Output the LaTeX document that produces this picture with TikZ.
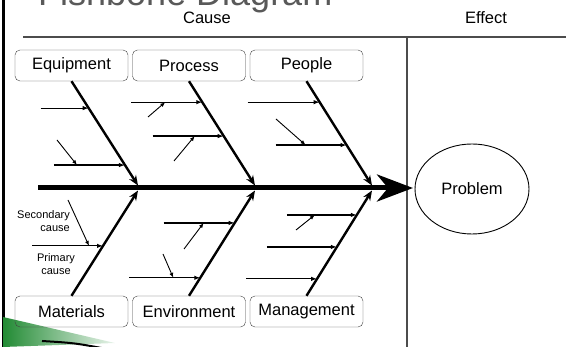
\documentclass[tikz,border=0pt]{standalone}
\usepackage{fontspec}
\setmainfont{Liberation Sans}
\usetikzlibrary{arrows.meta,calc,shapes.geometric}

\definecolor{swoosh}{RGB}{34,139,52}

\begin{document}
\begin{tikzpicture}[x=1pt,y=-1pt,
  cat/.style={draw=black!75,rounded corners=5pt,minimum width=113pt,minimum height=31pt,inner sep=0pt,font=\fontsize{16.5}{18}\selectfont},
  head/.style={font=\fontsize{16.5}{18}\selectfont,inner sep=0pt},
  bone/.style={line width=2.4pt,-{Stealth[length=10pt,width=8pt]}},
  sub/.style={line width=1.2pt,-{Latex[length=6pt,width=4.5pt]}},
  subsub/.style={line width=0.9pt,-{Latex[length=5pt,width=4pt]}},
  note/.style={font=\fontsize{11}{13.5}\selectfont,inner sep=0pt}]
\useasboundingbox (0,0) rectangle (566,347);
\clip (0,0) rectangle (566,347);

% heading
\node [anchor=base west, text=black!65, inner sep=0pt, font=\fontsize{36}{40}\selectfont] (title) at (38,6) {Fishbone Diagram};
\node [head, anchor=base] (cause) at (207,24) {Cause};
\node [head, anchor=base] (effect) at (486,24) {Effect};
\draw [line width=1.3pt, black!70] (23,37) -- (566,37);
\draw [line width=1.3pt, black!70] (407,37) -- (407,347);
\draw [line width=3pt] (3,0) -- (3,347);

% slide corner
\shade [left color=swoosh, right color=swoosh!10] (3,317) -- (115,343) -- (3,347) -- cycle;
\draw [line width=2pt] (42,341) .. controls (75,343) .. (112,350);

% categories
\node [cat] (eq) at (71.5,65.5) {Equipment};
\node [cat] (pr) at (189,65.5) {Process};
\node [cat] (pe) at (306.5,65.5) {People};
\node [cat] (ma) at (71.5,311.5) {Materials};
\node [cat] (en) at (189,311.5) {Environment};
\node [cat] (mg) at (306.5,311.5) {Management};

% spine
\coordinate (tail) at (38,188);
\coordinate (tip) at (413,188);
\draw [line width=5pt, -{Stealth[length=36pt,width=27pt,inset=11pt]}] (tail) -- (tip);
\node [draw, ellipse, line width=0.9pt, minimum width=114pt, minimum height=90pt, font=\fontsize{16.5}{18}\selectfont] (prob) at (472,189) {Problem};

% bones
\coordinate (ju1) at (138,185.5);
\coordinate (ju2) at (255,185.5);
\coordinate (ju3) at (372,185.5);
\coordinate (jd1) at (138,190.5);
\coordinate (jd2) at (255,190.5);
\coordinate (jd3) at (372,190.5);
\draw [bone] (eq.south) -- (ju1);
\draw [bone] (pr.south) -- (ju2);
\draw [bone] (pe.south) -- (ju3);
\draw [bone] (ma.north) -- (jd1);
\draw [bone] (en.north) -- (jd2);
\draw [bone] (mg.north) -- (jd3);

% primary causes
\foreach \a/\b/\t/\l/\n in {eq.south/ju1/0.258/48/e1, eq.south/ju1/0.804/71/e2,
    pr.south/ju2/0.201/71/p1, pr.south/ju2/0.526/71/p2,
    pe.south/ju3/0.201/72/q1, pe.south/ju3/0.612/71/q2,
    ma.north/jd1/0.474/71/m1,
    en.north/jd2/0.692/71/v1, en.north/jd2/0.171/71/v2,
    mg.north/jd3/0.768/70/g1, mg.north/jd3/0.464/70/g2, mg.north/jd3/0.161/71/g3}{
  \coordinate (\n) at ($(\a)!\t!(\b)$);
  \draw [sub] ($(\n)+(-\l,0)$) -- (\n);
}

% secondary causes
\coordinate (s1) at (57,140);
\coordinate (s2) at (148,117);
\coordinate (s3) at (174,161);
\coordinate (s4) at (276,119);
\coordinate (s5) at (68,200);
\coordinate (s6) at (184,249);
\coordinate (s7) at (163,254);
\coordinate (s8) at (296,230);
\draw [subsub] (s1) -- ($(e2)+(-48,0)$);
\draw [subsub] (s2) -- ($(p1)+(-37,0)$);
\draw [subsub] (s3) -- ($(p2)+(-29,0)$);
\draw [subsub] (s4) -- ($(q2)+(-41,0)$);
\draw [subsub] (s5) -- ($(m1)+(-14,0)$);
\draw [subsub] (s6) -- ($(v1)+(-31,0)$);
\draw [subsub] (s7) -- ($(v2)+(-27,0)$);
\draw [subsub] (s8) -- ($(g1)+(-42,0)$);

\node [note, align=right, anchor=east] (sec) at (70,221) {Secondary\\cause};
\node [note, align=center] (pri) at (56,264) {Primary\\cause};
\end{tikzpicture}
\end{document}
